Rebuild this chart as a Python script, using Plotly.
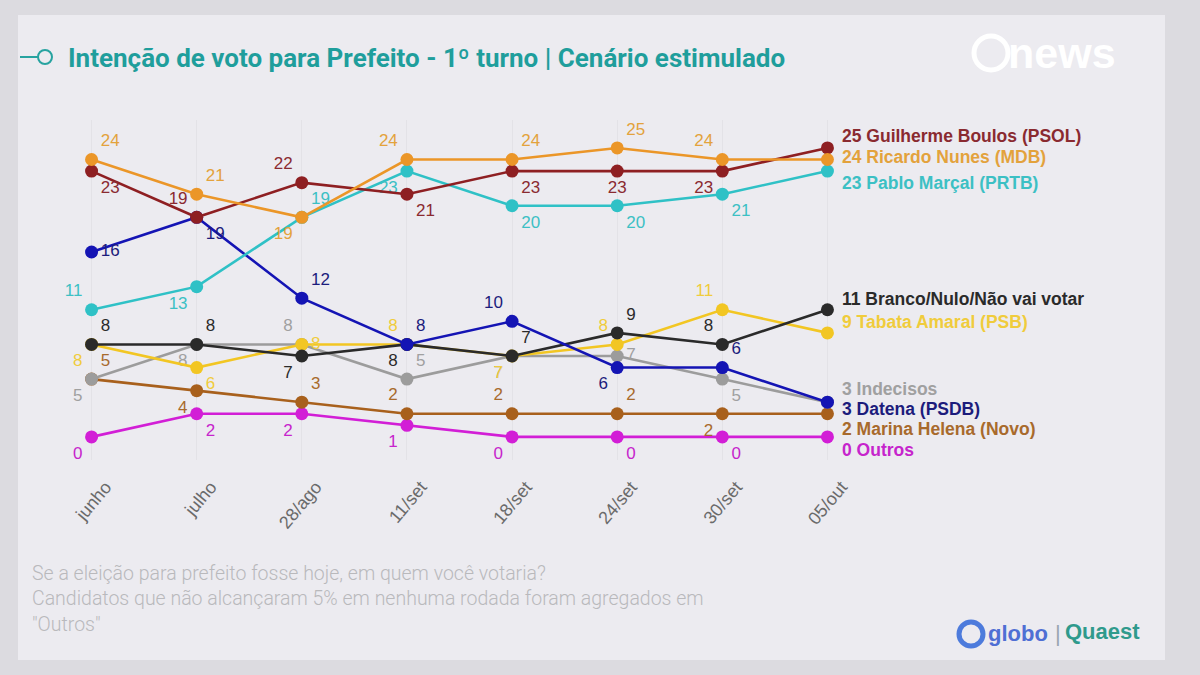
import plotly.graph_objects as go

# ---------------- data ----------------
dates = ["junho", "julho", "28/ago", "11/set", "18/set", "24/set", "30/set", "05/out"]

boulos = [23, 19, 22, 21, 23, 23, 23, 25]
nunes = [24, 21, 19, 24, 24, 25, 24, 24]
marcal = [11, 13, 19, 23, 20, 20, 21, 23]
branco = [8, 8, 7, 8, 7, 9, 8, 11]
tabata = [8, 6, 8, 8, 7, 8, 11, 9]
indecisos = [5, 8, 8, 5, 7, 7, 5, 3]
datena = [16, 19, 12, 8, 10, 6, 6, 3]
marina = [5, 4, 3, 2, 2, 2, 2, 2]
outros = [0, 2, 2, 1, 0, 0, 0, 0]

names = {
    "boulos": "Guilherme Boulos (PSOL)",
    "nunes": "Ricardo Nunes (MDB)",
    "marcal": "Pablo Marçal (PRTB)",
    "branco": "Branco/Nulo/Não vai votar",
    "tabata": "Tabata Amaral (PSB)",
    "indecisos": "Indecisos",
    "datena": "Datena (PSDB)",
    "marina": "Marina Helena (Novo)",
    "outros": "Outros",
}

title = "Intenção de voto para Prefeito - 1º turno | Cenário estimulado"
footnote_lines = [
    "Se a eleição para prefeito fosse hoje, em quem você votaria?",
    "Candidatos que não alcançaram 5% em nenhuma rodada foram agregados em",
    "\"Outros\"",
]

# ---------------- styles ----------------
W, H = 1200, 675
BG_OUT = "#dcdbe0"
BG_PANEL = "#ecebf0"

# key: (values, line colour, label colour, per-point text positions, end-label yshift)
series = [
    ("outros", outros, "#d21ed6", "#c624cc",
     ["bottom left", "bottom right", "bottom left", "bottom left", "bottom left", "bottom right", "bottom right", "middle right"], -13),
    ("marina", marina, "#a8601c", "#a86a2c",
     ["top right", "bottom left", "top right", "top left", "top left", "top right", "bottom left", "middle right"], -15),
    ("indecisos", indecisos, "#9c9c9c", "#a0a0a0",
     ["bottom left", "bottom left", "top left", "top right", "bottom left", "middle right", "bottom right", "middle right"], 13),
    ("tabata", tabata, "#f2c623", "#f0cc3c",
     ["bottom left", "bottom right", "middle right", "top left", "bottom left", "top left", "top left", "middle right"], 11),
    ("branco", branco, "#2a2a2a", "#2a2a2a",
     ["top right", "top right", "bottom left", "bottom left", "top right", "top right", "top left", "middle right"], 11),
    ("datena", datena, "#1414b4", "#1c1c7c",
     ["middle right", "bottom right", "top right", "top right", "top left", "bottom left", "top right", "middle right"], -7),
    ("marcal", marcal, "#2fc1c6", "#3cc0c4",
     ["top left", "bottom left", "top right", "bottom left", "bottom right", "bottom right", "bottom right", "middle right"], -12),
    ("boulos", boulos, "#8e1f22", "#8a2a30",
     ["bottom right", "top left", "top left", "bottom right", "bottom right", "bottom center", "bottom left", "middle right"], 12),
    ("nunes", nunes, "#eb9628", "#e3a23c",
     ["top right", "top right", "bottom left", "top left", "top right", "top right", "top left", "middle right"], 3),
]

X0, X1 = 39, 880      # plot area in pixels
Y0, Y1 = 120, 460

fig = go.Figure()

for key, vals, lc, tc, tpos, ysh in series:
    txt = [str(v) for v in vals[:-1]] + [""]
    fig.add_trace(go.Scatter(
        x=dates, y=vals, mode="lines+markers+text",
        name=names[key],
        line=dict(color=lc, width=2.6),
        marker=dict(color=lc, size=13),
        text=txt, textposition=tpos,
        textfont=dict(family="Liberation Sans, Arial, sans-serif", size=17, color=tc),
        showlegend=False, cliponaxis=False,
    ))
    fig.add_annotation(
        x=dates[-1], y=vals[-1], xref="x", yref="y",
        text=f"<b>{vals[-1]} {names[key]}</b>", showarrow=False,
        xanchor="left", yanchor="middle", xshift=13, yshift=ysh,
        font=dict(family="Liberation Sans, Arial, sans-serif", size=17.5, color=tc),
    )

# panel background
fig.add_shape(type="rect", xref="paper", yref="paper",
              x0=18 / W, x1=1165 / W, y0=1 - 660 / H, y1=1 - 15 / H,
              fillcolor=BG_PANEL, line=dict(width=0), layer="below")

# title icon
fig.add_shape(type="line", xref="paper", yref="paper",
              x0=20 / W, x1=38 / W, y0=1 - 57 / H, y1=1 - 57 / H,
              line=dict(color="#27a3a0", width=2))
fig.add_shape(type="circle", xref="paper", yref="paper",
              x0=38 / W, x1=52 / W, y0=1 - 64 / H, y1=1 - 50 / H,
              line=dict(color="#27a3a0", width=2), fillcolor=BG_PANEL)

fig.add_annotation(xref="paper", yref="paper", x=66 / W, y=1 - 58 / H,
                   text=title, showarrow=False, xanchor="left", yanchor="middle",
                   font=dict(family="Roboto, sans-serif", size=26, color="#1f9e9c", weight="bold"))

fig.add_annotation(xref="paper", yref="paper", x=30 / W, y=1 - 599 / H,
                   text="<br>".join(footnote_lines), showarrow=False,
                   xanchor="left", yanchor="middle", align="left",
                   font=dict(family="Roboto, sans-serif", size=19.5, color="#b9b9bc", weight=300))

# "news" logo (white)
fig.add_shape(type="circle", xref="paper", yref="paper",
              x0=974 / W, x1=1008 / W, y0=1 - 70 / H, y1=1 - 36 / H,
              line=dict(color="#ffffff", width=5), fillcolor="rgba(0,0,0,0)")
fig.add_annotation(xref="paper", yref="paper", x=1006 / W, y=1 - 53 / H,
                   text="<b>news</b>", showarrow=False, xanchor="left", yanchor="middle",
                   font=dict(family="Liberation Sans, Arial, sans-serif", size=43, color="#ffffff"))

# globo | Quaest logo
fig.add_shape(type="circle", xref="paper", yref="paper",
              x0=959 / W, x1=983 / W, y0=1 - 646 / H, y1=1 - 622 / H,
              line=dict(color="#4d7bdc", width=5), fillcolor="rgba(0,0,0,0)")
fig.add_annotation(xref="paper", yref="paper", x=986 / W, y=1 - 633 / H,
                   text="<b>globo</b>", showarrow=False, xanchor="left", yanchor="middle",
                   font=dict(family="Liberation Sans, Arial, sans-serif", size=22, color="#4f6fd4"))
fig.add_annotation(xref="paper", yref="paper", x=1053 / W, y=1 - 633 / H,
                   text="|", showarrow=False, xanchor="left", yanchor="middle",
                   font=dict(family="Liberation Sans, Arial, sans-serif", size=22, color="#9aa6b0"))
fig.add_annotation(xref="paper", yref="paper", x=1063 / W, y=1 - 631 / H,
                   text="<b>Quaest</b>", showarrow=False, xanchor="left", yanchor="middle",
                   font=dict(family="Liberation Sans, Arial, sans-serif", size=22, color="#2f9a8c"))

fig.update_layout(
    width=W, height=H,
    margin=dict(l=0, r=0, t=0, b=0),
    paper_bgcolor=BG_OUT, plot_bgcolor="rgba(0,0,0,0)",
    xaxis=dict(type="category", domain=[X0 / W, X1 / W], range=[-0.5, 7.5],
               showgrid=True, gridcolor="#e3e2e7", gridwidth=1, zeroline=False,
               showline=False, ticks="", tickangle=-50, ticklabelshift=14, ticklabelstandoff=12,
               tickfont=dict(family="Liberation Sans, Arial, sans-serif", size=18, color="#6a6a6a")),
    yaxis=dict(domain=[1 - Y1 / H, 1 - Y0 / H], range=[-2, 27.42],
               showgrid=False, zeroline=False, showticklabels=False, showline=False),
)

fig.write_html("out.html", post_script="document.body.style.margin='0';",
               config={"displayModeBar": False})
